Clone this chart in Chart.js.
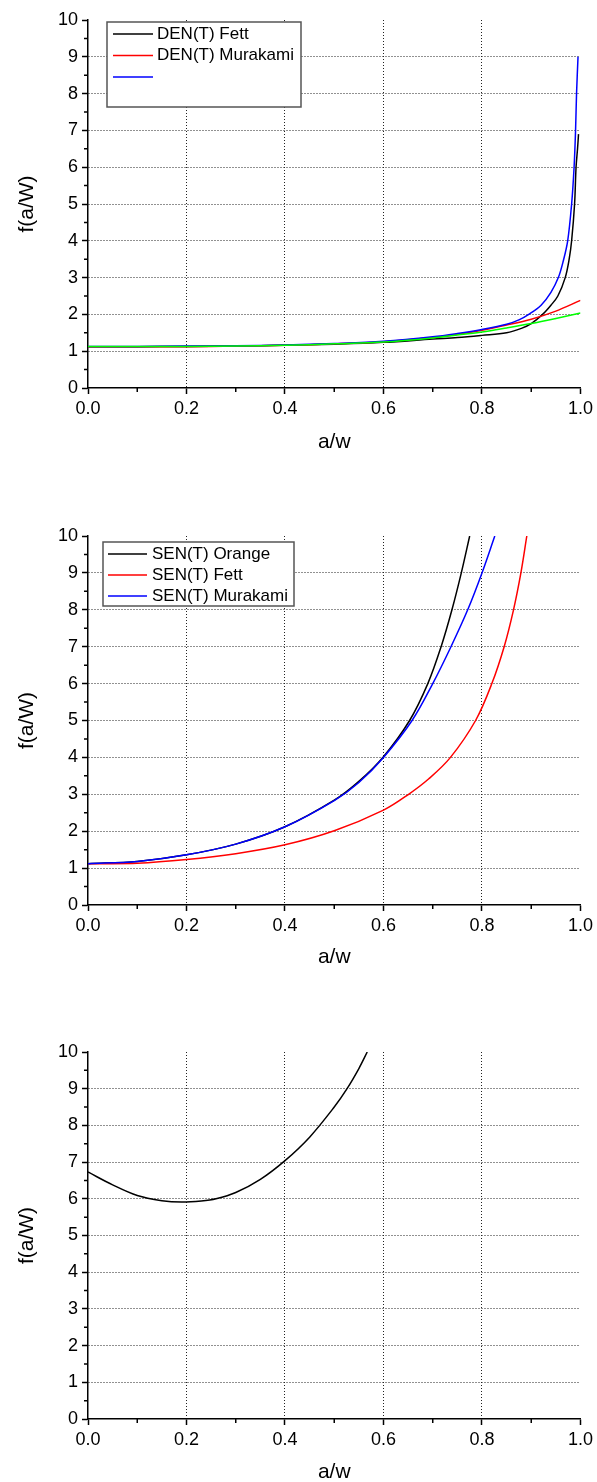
<!DOCTYPE html>
<html>
<head>
<meta charset="utf-8">
<script src="https://cdn.jsdelivr.net/npm/chart.js@4"></script>
<style>
  html, body { margin: 0; padding: 0; background: #fff; overflow: hidden; }
  .plot { position: absolute; left: 0; width: 597px; }
</style>
</head>
<body>
<div class="plot" style="top:0;height:459px"><canvas id="den"></canvas></div>
<div class="plot" style="top:480px;height:494px"><canvas id="sen"></canvas></div>
<div class="plot" style="top:990px;height:499px"><canvas id="third"></canvas></div>
<script>
// DEN(T) curves
const denFettA = [0, 0.1, 0.2, 0.3, 0.4, 0.5, 0.6, 0.7, 0.75, 0.8, 0.85, 0.88, 0.9, 0.923, 0.94, 0.954, 0.969, 0.977, 0.982, 0.988, 0.991, 0.994, 0.996];
const denFettF = [1.12, 1.12, 1.13, 1.14, 1.16, 1.19, 1.24, 1.33, 1.37, 1.43, 1.50, 1.62, 1.75, 2.0, 2.25, 2.5, 3.0, 3.5, 4.0, 5.0, 6.0, 6.5, 6.9];
const denMurA = [0, 0.1, 0.2, 0.3, 0.4, 0.5, 0.6, 0.7, 0.75, 0.8, 0.85, 0.9, 0.95, 1.0];
const denMurF = [1.12, 1.12, 1.12, 1.14, 1.16, 1.20, 1.26, 1.37, 1.46, 1.57, 1.71, 1.87, 2.09, 2.38];
const denBlueA = [0, 0.1, 0.2, 0.3, 0.4, 0.5, 0.6, 0.7, 0.75, 0.8, 0.85, 0.875, 0.895, 0.92, 0.94, 0.955, 0.965, 0.974, 0.982, 0.987, 0.990, 0.992, 0.995];
const denBlueF = [1.13, 1.13, 1.14, 1.15, 1.17, 1.21, 1.27, 1.39, 1.48, 1.59, 1.73, 1.85, 2.0, 2.25, 2.6, 3.0, 3.45, 4.0, 5.0, 6.0, 7.0, 8.0, 9.0];
const denGreenA = [0, 0.1, 0.2, 0.3, 0.4, 0.5, 0.6, 0.7, 0.75, 0.8, 0.85, 0.9, 0.95, 1.0];
const denGreenF = [1.13, 1.13, 1.13, 1.14, 1.16, 1.20, 1.25, 1.36, 1.44, 1.52, 1.63, 1.75, 1.89, 2.04];

// SEN(T) curves
const senOrangeA = [0, 0.1, 0.2, 0.3, 0.4, 0.5, 0.55, 0.6, 0.653, 0.69, 0.717, 0.739, 0.758, 0.775];
const senOrangeF = [1.12, 1.18, 1.36, 1.65, 2.12, 2.84, 3.35, 4.02, 5.0, 6.0, 7.0, 8.0, 9.0, 10.0];
const senFettA = [0, 0.1, 0.2, 0.3, 0.4, 0.5, 0.6, 0.651, 0.692, 0.736, 0.787, 0.82, 0.845, 0.864, 0.879, 0.891];
const senFettF = [1.12, 1.13, 1.23, 1.39, 1.63, 2.01, 2.57, 3.0, 3.42, 4.0, 5.0, 6.0, 7.0, 8.0, 9.0, 10.0];
const senMurA = [0, 0.1, 0.2, 0.3, 0.4, 0.5, 0.55, 0.6, 0.658, 0.7, 0.737, 0.771, 0.800, 0.826];
const senMurF = [1.12, 1.18, 1.36, 1.65, 2.12, 2.83, 3.32, 4.0, 5.0, 6.0, 7.0, 8.0, 9.0, 10.0];

// third panel
const thirdA = [0, 0.05, 0.1, 0.15, 0.19, 0.23, 0.26, 0.3, 0.35, 0.4, 0.45, 0.5, 0.525, 0.55, 0.567];
const thirdF = [6.73, 6.38, 6.09, 5.95, 5.91, 5.94, 6.0, 6.17, 6.53, 7.04, 7.68, 8.5, 8.98, 9.55, 10.0];

const xTickStep = 0.2;
const yTickStep = 1;

Chart.defaults.font.family = '"Liberation Sans", Arial, sans-serif';
Chart.defaults.color = '#000';

function pts(a, f) {
    return a.map((v, i) => ({ x: v, y: f[i] }));
}

function series(label, a, f, color, order, inLegend = true) {
    return {
        label: label,
        data: pts(a, f),
        borderColor: color,
        borderWidth: 1.5,
        pointRadius: 0,
        tension: 0.35,
        fill: false,
        order: order,
        inLegend: inLegend
    };
}

// short ticks between the labelled ones
const minorTicks = {
    id: 'minorTicks',
    afterDraw(chart) {
        const { ctx, chartArea, scales: { x, y } } = chart;
        ctx.save();
        ctx.strokeStyle = '#000';
        ctx.lineWidth = 1.5;
        ctx.beginPath();
        for (let v = xTickStep / 2; v < 1; v += xTickStep) {
            const px = x.getPixelForValue(v);
            ctx.moveTo(px, chartArea.bottom);
            ctx.lineTo(px, chartArea.bottom + 4);
        }
        for (let v = yTickStep / 2; v < 10; v += yTickStep) {
            const py = y.getPixelForValue(v);
            ctx.moveTo(chartArea.left, py);
            ctx.lineTo(chartArea.left - 4, py);
        }
        ctx.stroke();
        ctx.restore();
    }
};

// framed legend sitting inside the plot
const boxLegend = {
    id: 'boxLegend',
    afterDraw(chart, args, opts) {
        if (!opts.box) return;
        const ctx = chart.ctx;
        const [bx, by, bw, bh] = opts.box;
        ctx.save();
        ctx.fillStyle = '#fff';
        ctx.fillRect(bx, by, bw, bh);
        ctx.strokeStyle = '#555';
        ctx.lineWidth = 1.5;
        ctx.strokeRect(bx, by, bw, bh);
        ctx.font = '17px "Liberation Sans", Arial, sans-serif';
        ctx.textBaseline = 'middle';
        ctx.fillStyle = '#000';
        const items = chart.data.datasets.filter(d => d.inLegend);
        items.forEach((d, i) => {
            const ry = opts.rowY + i * opts.rowStep;
            ctx.strokeStyle = d.borderColor;
            ctx.lineWidth = 1.5;
            ctx.beginPath();
            ctx.moveTo(opts.lineX[0], ry);
            ctx.lineTo(opts.lineX[1], ry);
            ctx.stroke();
            ctx.fillText(d.label, opts.textX, ry);
        });
        ctx.restore();
    }
};

function makeScales(xAxisH) {
    return {
        x: {
            type: 'linear',
            min: 0,
            max: 1,
            afterFit: s => { s.height = xAxisH; },
            ticks: {
                stepSize: xTickStep,
                padding: 4,
                maxRotation: 0,
                font: { size: 18 },
                callback: v => v.toFixed(1)
            },
            grid: {
                color: c => (c.tick && c.tick.value > 0.01 && c.tick.value < 0.99) ? '#222' : 'rgba(0,0,0,0)',
                lineWidth: 1,
                tickColor: '#000',
                tickLength: 6,
                tickWidth: 1.5
            },
            border: { color: '#000', width: 1.5, dash: [1, 2] },
            title: { display: true, text: 'a/w', font: { size: 21 }, padding: { top: 0, bottom: 4 } }
        },
        y: {
            type: 'linear',
            min: 0,
            max: 10,
            afterFit: s => { s.width = 88; },
            ticks: { stepSize: yTickStep, padding: 4, font: { size: 18 } },
            grid: {
                color: c => (c.tick && c.tick.value > 0 && c.tick.value < 10) ? '#222' : 'rgba(0,0,0,0)',
                lineWidth: 1,
                tickColor: '#000',
                tickLength: 6,
                tickWidth: 1.5
            },
            border: { color: '#000', width: 1.5, dash: [1, 2] },
            title: { display: true, text: 'f(a/W)', font: { size: 21 }, padding: { top: 15, bottom: 0 } }
        }
    };
}

function makeChart(id, datasets, top, xAxisH, legendOpts) {
    return new Chart(document.getElementById(id), {
        type: 'line',
        data: { datasets: datasets },
        options: {
            responsive: true,
            maintainAspectRatio: false,
            animation: false,
            layout: { padding: { top: top, right: 15, bottom: 0, left: 0 } },
            scales: makeScales(xAxisH),
            plugins: {
                legend: { display: false },
                tooltip: { enabled: false },
                boxLegend: legendOpts || {}
            }
        },
        plugins: [minorTicks, boxLegend]
    });
}

makeChart('den', [
    series('DEN(T) Fett', denFettA, denFettF, '#000000', 4),
    series('DEN(T) Murakami', denMurA, denMurF, '#ff0000', 3),
    series('', denBlueA, denBlueF, '#0000ff', 2),
    series('', denGreenA, denGreenF, '#00ff00', 1, false)
], 20, 71, { box: [107, 22, 194, 85], rowY: 34, rowStep: 21.5, lineX: [113, 153], textX: 157 });

makeChart('sen', [
    series('SEN(T) Orange', senOrangeA, senOrangeF, '#000000', 3),
    series('SEN(T) Fett', senFettA, senFettF, '#ff0000', 2),
    series('SEN(T) Murakami', senMurA, senMurF, '#0000ff', 1)
], 56, 69, { box: [103, 62, 191, 64], rowY: 74, rowStep: 21, lineX: [108, 147], textX: 152 });

makeChart('third', [
    series('', thirdA, thirdF, '#000000', 1, false)
], 62, 70);
</script>
</body>
</html>
